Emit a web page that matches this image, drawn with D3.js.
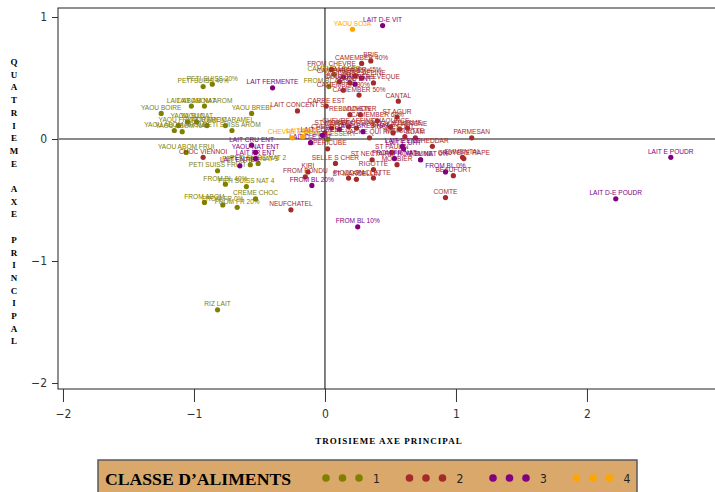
<!DOCTYPE html>
<html>
<head>
<meta charset="utf-8">
<script src="https://cdn.jsdelivr.net/npm/d3@7/dist/d3.min.js"></script>
<style>
  html, body { margin: 0; padding: 0; background: #fff; }
  svg { display: block; }
</style>
</head>
<body>
<svg id="chart" width="715" height="492"></svg>
<script>
// Coordonnées des aliments sur les axes factoriels 3 et 4, par classe
const classe1 = [
  ["PETI SUISS 40%", -0.93, 0.43], ["PETI SUISS 20%", -0.86, 0.45],
  ["LAIT ABOM NAT", -1.02, 0.27], ["LAIT ABOM AROM", -0.92, 0.27],
  ["YAOU BOIRE", -1.25, 0.21], ["YAOU BREBI", -0.56, 0.21],
  ["YAOU SUC", -1.05, 0.14], ["YAOU FRUIT", -1.12, 0.11],
  ["YAOU NAT", -0.98, 0.14], ["YAOU AROM", -0.90, 0.11],
  ["CREME CARAMEL", -0.76, 0.11], ["PETI SUISS AROM", -0.71, 0.07],
  ["YAOU ABOM AROM", -1.15, 0.07], ["YAOU ABOM NAT", -1.09, 0.06],
  ["YAOU ABOM FRUI", -1.06, -0.11], ["PETI SUISS FRUIT", -0.82, -0.26],
  ["PETI SUISS NAT 3", -0.57, -0.21], ["PETI SUISS NAT 2", -0.51, -0.20],
  ["PETI SUISS NAT 4", -0.60, -0.39], ["FROM BL 40%", -0.76, -0.37],
  ["CREME CHOC", -0.53, -0.49], ["FROM ABOM", -0.92, -0.52],
  ["FROM FR 0%", -0.78, -0.54], ["FROM FR 20%", -0.67, -0.56],
  ["RIZ LAIT", -0.82, -1.40], ["FROM BL AROM", 0.03, 0.43],
  ["CAMEMB LEGER", 0.07, 0.53], ["CREME DESSERT", 0.02, 0.00]
];
const classe2 = [
  ["CHOC VIENNOI", -0.93, -0.15], ["NEUFCHATEL", -0.26, -0.58],
  ["LAIT CONCENT S", -0.21, 0.23], ["CARRE EST", 0.01, 0.27],
  ["KIRI", -0.13, -0.27], ["FROM FONDU", -0.15, -0.31],
  ["CAMEMBER 40%", 0.28, 0.62], ["BRIE", 0.35, 0.64],
  ["CAMEMBER 45%", 0.23, 0.52], ["FROM CHEVRE", 0.05, 0.57],
  ["CAMEMBER 50%", 0.26, 0.36], ["CANTAL", 0.56, 0.31],
  ["CAMEMBER 55%", 0.14, 0.51], ["CARRE AFFINE", 0.28, 0.50],
  ["BRILLAT", 0.11, 0.47], ["COULOMMIERS", 0.19, 0.46],
  ["PONT L EVEQUE", 0.37, 0.46], ["CAMEMBER 30%", 0.14, 0.40],
  ["REBLOCHON", 0.19, 0.20], ["MUNSTER", 0.27, 0.20],
  ["CAMEMBER 60%", 0.40, 0.15], ["CHAOURCE", 0.50, 0.10],
  ["CHEVRE AFFINE", 0.18, 0.10], ["ST MORET", 0.05, 0.09],
  ["CAPRICE", 0.11, 0.08], ["BOURSIN", 0.24, 0.09],
  ["VACHE QUI RIT", 0.34, 0.01], ["ROQUEFORT", 0.52, 0.05],
  ["BLEU AUVERGNE", 0.57, 0.08], ["FOURME", 0.63, 0.09],
  ["MIMOLETTE", 0.61, 0.02], ["EDAM", 0.69, 0.01],
  ["CHEDDAR", 0.82, -0.06], ["PARMESAN", 1.12, 0.01],
  ["EMMENTAL", 1.05, -0.15], ["GRUYERE RAPE", 1.06, -0.16],
  ["BEAUFORT", 0.98, -0.30], ["COMTE", 0.92, -0.48],
  ["APERICUBE", 0.02, -0.08], ["SELLE S CHER", 0.08, -0.20],
  ["ST NECTAIRE", 0.36, -0.17], ["RIGOTTE", 0.37, -0.25],
  ["PICODON", 0.18, -0.32], ["ST MARCELLIN", 0.24, -0.33],
  ["RACLETTE", 0.37, -0.32], ["MORBIER", 0.55, -0.21],
  ["ST PAULIN", 0.51, -0.11], ["TOMME", 0.73, -0.17],
  ["ST AGUR", 0.55, 0.18], ["CHEVRE", 0.00, 0.05]
];
const classe3 = [
  ["LAIT D-E VIT", 0.44, 0.93], ["LAIT FERMENTE", -0.40, 0.42],
  ["LAIT CRU ENT", -0.56, -0.05], ["YAOU NAT ENT", -0.53, -0.11],
  ["LAIT FR ENT", -0.53, -0.16], ["LAIT ENTIER", -0.65, -0.22],
  ["FROM BL 20%", -0.10, -0.38], ["FROM BL 10%", 0.25, -0.72],
  ["FROM BL 0%", 0.92, -0.27], ["LAIT E POUDR", 2.64, -0.15],
  ["LAIT D-E POUDR", 2.22, -0.49], ["LAIT E ENT", 0.59, -0.06],
  ["LAIT E UHT", 0.60, -0.08], ["FROM BL NAT 0%", 0.73, -0.17],
  ["FROM FR NAT", 0.53, -0.16], ["LAIT D-E UHT", -0.11, -0.03],
  ["LAIT ECREME", -0.02, 0.03], ["YAOU BREB NAT", 0.29, 0.06],
  ["YAOU ENT", 0.23, 0.45]
];
const classe4 = [
  ["YAOU SOJA", 0.21, 0.90], ["CHEVRE FRAIS", -0.25, 0.01],
  ["LAIT SOJA", -0.17, 0.02]
];

const xTicks = [-2, -1, 0, 1, 2];
const yTicks = [-2, -1, 0, 1];
const legendLabels = ["1", "2", "3", "4"];

const colors = ["#808000", "#A52A2A", "#800080", "#FFA500"];
const groups = [classe1, classe2, classe3, classe4];

const svg = d3.select("#chart");
const frame = { left: 58, top: 8, right: 716, bottom: 389 };

const x = d3.scaleLinear().domain([-2.038, 2.985]).range([frame.left, frame.right]);
const y = d3.scaleLinear().domain([-2.049, 1.074]).range([frame.bottom, frame.top]);

// cadre du graphique
svg.append("rect")
  .attr("x", frame.left).attr("y", frame.top)
  .attr("width", frame.right - frame.left).attr("height", frame.bottom - frame.top)
  .attr("fill", "none").attr("stroke", "#222").attr("stroke-width", 1);

// axes de référence
svg.append("line")
  .attr("x1", frame.left).attr("x2", frame.right)
  .attr("y1", y(0)).attr("y2", y(0))
  .attr("stroke", "#8a8a8a").attr("stroke-width", 2);
svg.append("line")
  .attr("x1", x(0)).attr("x2", x(0))
  .attr("y1", frame.top).attr("y2", frame.bottom)
  .attr("stroke", "#000").attr("stroke-width", 1);

const tickFont = "'Liberation Sans Narrow', 'DejaVu Sans Condensed', Arial, sans-serif";

const xAxis = svg.append("g")
  .attr("transform", `translate(0,${frame.bottom})`)
  .call(d3.axisBottom(x).tickValues(xTicks).tickSize(13).tickPadding(7).tickFormat(d3.format("d")));
const yAxis = svg.append("g")
  .attr("transform", `translate(${frame.left},0)`)
  .call(d3.axisLeft(y).tickValues(yTicks).tickSize(6).tickPadding(5).tickFormat(d3.format("d")));
[xAxis, yAxis].forEach(a => {
  a.select(".domain").remove();
  a.selectAll(".tick line").attr("stroke", "#333");
  a.selectAll(".tick text").attr("font-family", tickFont).attr("font-size", 12).attr("fill", "#333");
});

// titres des axes
svg.append("text")
  .attr("x", 389).attr("y", 444)
  .attr("text-anchor", "middle")
  .attr("font-family", "'Liberation Serif', 'Times New Roman', serif")
  .attr("font-weight", "bold").attr("font-size", 9).attr("letter-spacing", 1)
  .text("TROISIEME AXE PRINCIPAL");

const yTitle = "QUATRIEME AXE PRINCIPAL".split("");
svg.append("g").selectAll("text")
  .data(yTitle).join("text")
  .attr("x", 14).attr("y", (d, i) => 65 + i * 12.7)
  .attr("text-anchor", "middle")
  .attr("font-family", "'Liberation Serif', 'Times New Roman', serif")
  .attr("font-weight", "bold").attr("font-size", 9)
  .text(d => d);

// points et étiquettes
const labelFont = "'Liberation Sans', Arial, sans-serif";
groups.forEach((rows, gi) => {
  const g = svg.append("g");
  g.selectAll("circle").data(rows).join("circle")
    .attr("cx", d => x(d[1])).attr("cy", d => y(d[2]))
    .attr("r", 2.6).attr("fill", colors[gi]);
  g.selectAll("text").data(rows).join("text")
    .attr("x", d => x(d[1])).attr("y", d => y(d[2]) - 3.5)
    .attr("text-anchor", "middle")
    .attr("font-family", labelFont).attr("font-size", 6.6)
    .attr("fill", colors[gi])
    .text(d => d[0]);
});

// légende
const leg = svg.append("g");
leg.append("rect")
  .attr("x", 98).attr("y", 460).attr("width", 539).attr("height", 40)
  .attr("fill", "#D9A86A").attr("stroke", "#5a5a5a").attr("stroke-width", 1.5);
leg.append("text")
  .attr("x", 105).attr("y", 485)
  .attr("font-family", "'Liberation Serif', 'Times New Roman', serif")
  .attr("font-weight", "bold").attr("font-size", 16)
  .attr("textLength", 186).attr("lengthAdjust", "spacingAndGlyphs")
  .text("CLASSE D\u2019ALIMENTS");
legendLabels.forEach((lab, i) => {
  const x0 = 326 + i * 83.5;
  [0, 1, 2].forEach(k => {
    leg.append("circle")
      .attr("cx", x0 + k * 16.5).attr("cy", 478).attr("r", 3.8)
      .attr("fill", colors[i]);
  });
  leg.append("text")
    .attr("x", x0 + 47).attr("y", 483)
    .attr("font-family", tickFont).attr("font-size", 12).attr("fill", "#222")
    .text(lab);
});
</script>
</body>
</html>
